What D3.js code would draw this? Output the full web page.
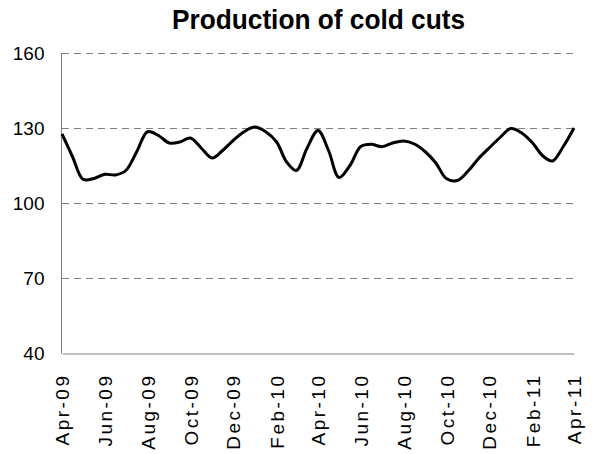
<!DOCTYPE html>
<html>
<head>
<meta charset="utf-8">
<script src="https://cdn.jsdelivr.net/npm/d3@7"></script>
<style>
  body { margin: 0; background: #fff; }
  svg { display: block; }
</style>
</head>
<body>
<div id="chart"></div>
<script>
// semi-monthly readings, Apr 2009 .. Apr 2011
var startDate = new Date(2009, 3, 1);
var values = [127.6, 118.5, 109.5, 109.8, 111.5, 111.2, 113, 120.5, 128.5, 127,
              124, 124.4, 126, 122, 118, 121, 125, 128.5, 130.4, 128.5,
              124.4, 116.5, 113, 122, 129, 121, 110.2, 115, 122.6, 123.5,
              122.5, 124, 124.8, 123.6, 120.5, 116, 109.8, 109, 112.8, 117.8,
              122, 126.2, 129.8, 128, 124, 119, 116.8, 122.5, 130];
var yTicks = [40, 70, 100, 130, 160];
var xTickLabels = ["Apr-09", "Jun-09", "Aug-09", "Oct-09", "Dec-09", "Feb-10", "Apr-10",
                   "Jun-10", "Aug-10", "Oct-10", "Dec-10", "Feb-11", "Apr-11"];

// each point sits half a month after the previous one
var data = values.map(function(v, i) {
  var d = d3.timeMonth.offset(startDate, Math.floor(i / 2));
  if (i % 2) d = new Date(d.getTime() + (d3.timeMonth.offset(d, 1) - d) / 2);
  return { date: d, value: v };
});
var tickDates = xTickLabels.map(function(s, i) { return d3.timeMonth.offset(startDate, i * 2); });

var width = 595, height = 454;
var margin = { top: 53, right: 21, bottom: 101, left: 62 };

var svg = d3.select('#chart').append('svg')
  .attr('width', width)
  .attr('height', height);

var x = d3.scaleTime()
  .domain([startDate, d3.timeMonth.offset(startDate, 24)])
  .range([margin.left, width - margin.right]);
var y = d3.scaleLinear()
  .domain([40, 160])
  .range([height - margin.bottom, margin.top]);

// grid
svg.append('g').selectAll('line')
  .data(yTicks.filter(function(t) { return t > 40; }))
  .enter().append('line')
  .attr('x1', margin.left).attr('x2', width - margin.right)
  .attr('y1', function(d) { return y(d) + 0.5; })
  .attr('y2', function(d) { return y(d) + 0.5; })
  .attr('stroke', '#808080')
  .attr('stroke-width', 1)
  .attr('stroke-dasharray', '7,5');

// y axis
var yAxis = svg.append('g')
  .attr('transform', 'translate(' + (margin.left - 0.5) + ',0)')
  .call(d3.axisLeft(y).tickValues(yTicks).tickSize(0).tickPadding(17));
yAxis.select('.domain').attr('stroke', '#808080').attr('d', 'M0,' + margin.top + 'V' + (height - margin.bottom + 0.5));
yAxis.selectAll('text')
  .style('font-family', '"Liberation Sans", Arial, sans-serif')
  .style('font-size', '19px')
  .attr('fill', '#000');

// x axis
var xAxis = svg.append('g')
  .attr('transform', 'translate(0,' + (height - margin.bottom + 0.5) + ')')
  .call(d3.axisBottom(x).tickValues(tickDates).tickSize(0).tickFormat(function(d, i) { return xTickLabels[i]; }));
xAxis.select('.domain').attr('stroke', '#808080');
xAxis.selectAll('text')
  .style('font-family', '"Liberation Sans", Arial, sans-serif')
  .style('font-size', '19px')
  .style('letter-spacing', '2.5px')
  .attr('fill', '#000')
  .attr('text-anchor', 'end')
  .attr('dy', '0.35em')
  .attr('transform', 'translate(0,20) rotate(-90)')
  .attr('x', 0)
  .attr('y', 0);

// line
var line = d3.line()
  .x(function(d) { return x(d.date); })
  .y(function(d) { return y(d.value); })
  .curve(d3.curveCatmullRom.alpha(0.5));
svg.append('path')
  .datum(data)
  .attr('fill', 'none')
  .attr('stroke', '#000')
  .attr('stroke-width', 3)
  .attr('stroke-linejoin', 'round')
  .attr('d', line);

// title (condensed look: squeeze Liberation Sans bold)
svg.append('text')
  .attr('x', 172)
  .attr('y', 29)
  .attr('textLength', 293)
  .attr('lengthAdjust', 'spacingAndGlyphs')
  .style('font-family', '"Liberation Sans", Arial, sans-serif')
  .style('font-weight', 'bold')
  .style('font-size', '28px')
  .text('Production of cold cuts');
</script>
</body>
</html>
